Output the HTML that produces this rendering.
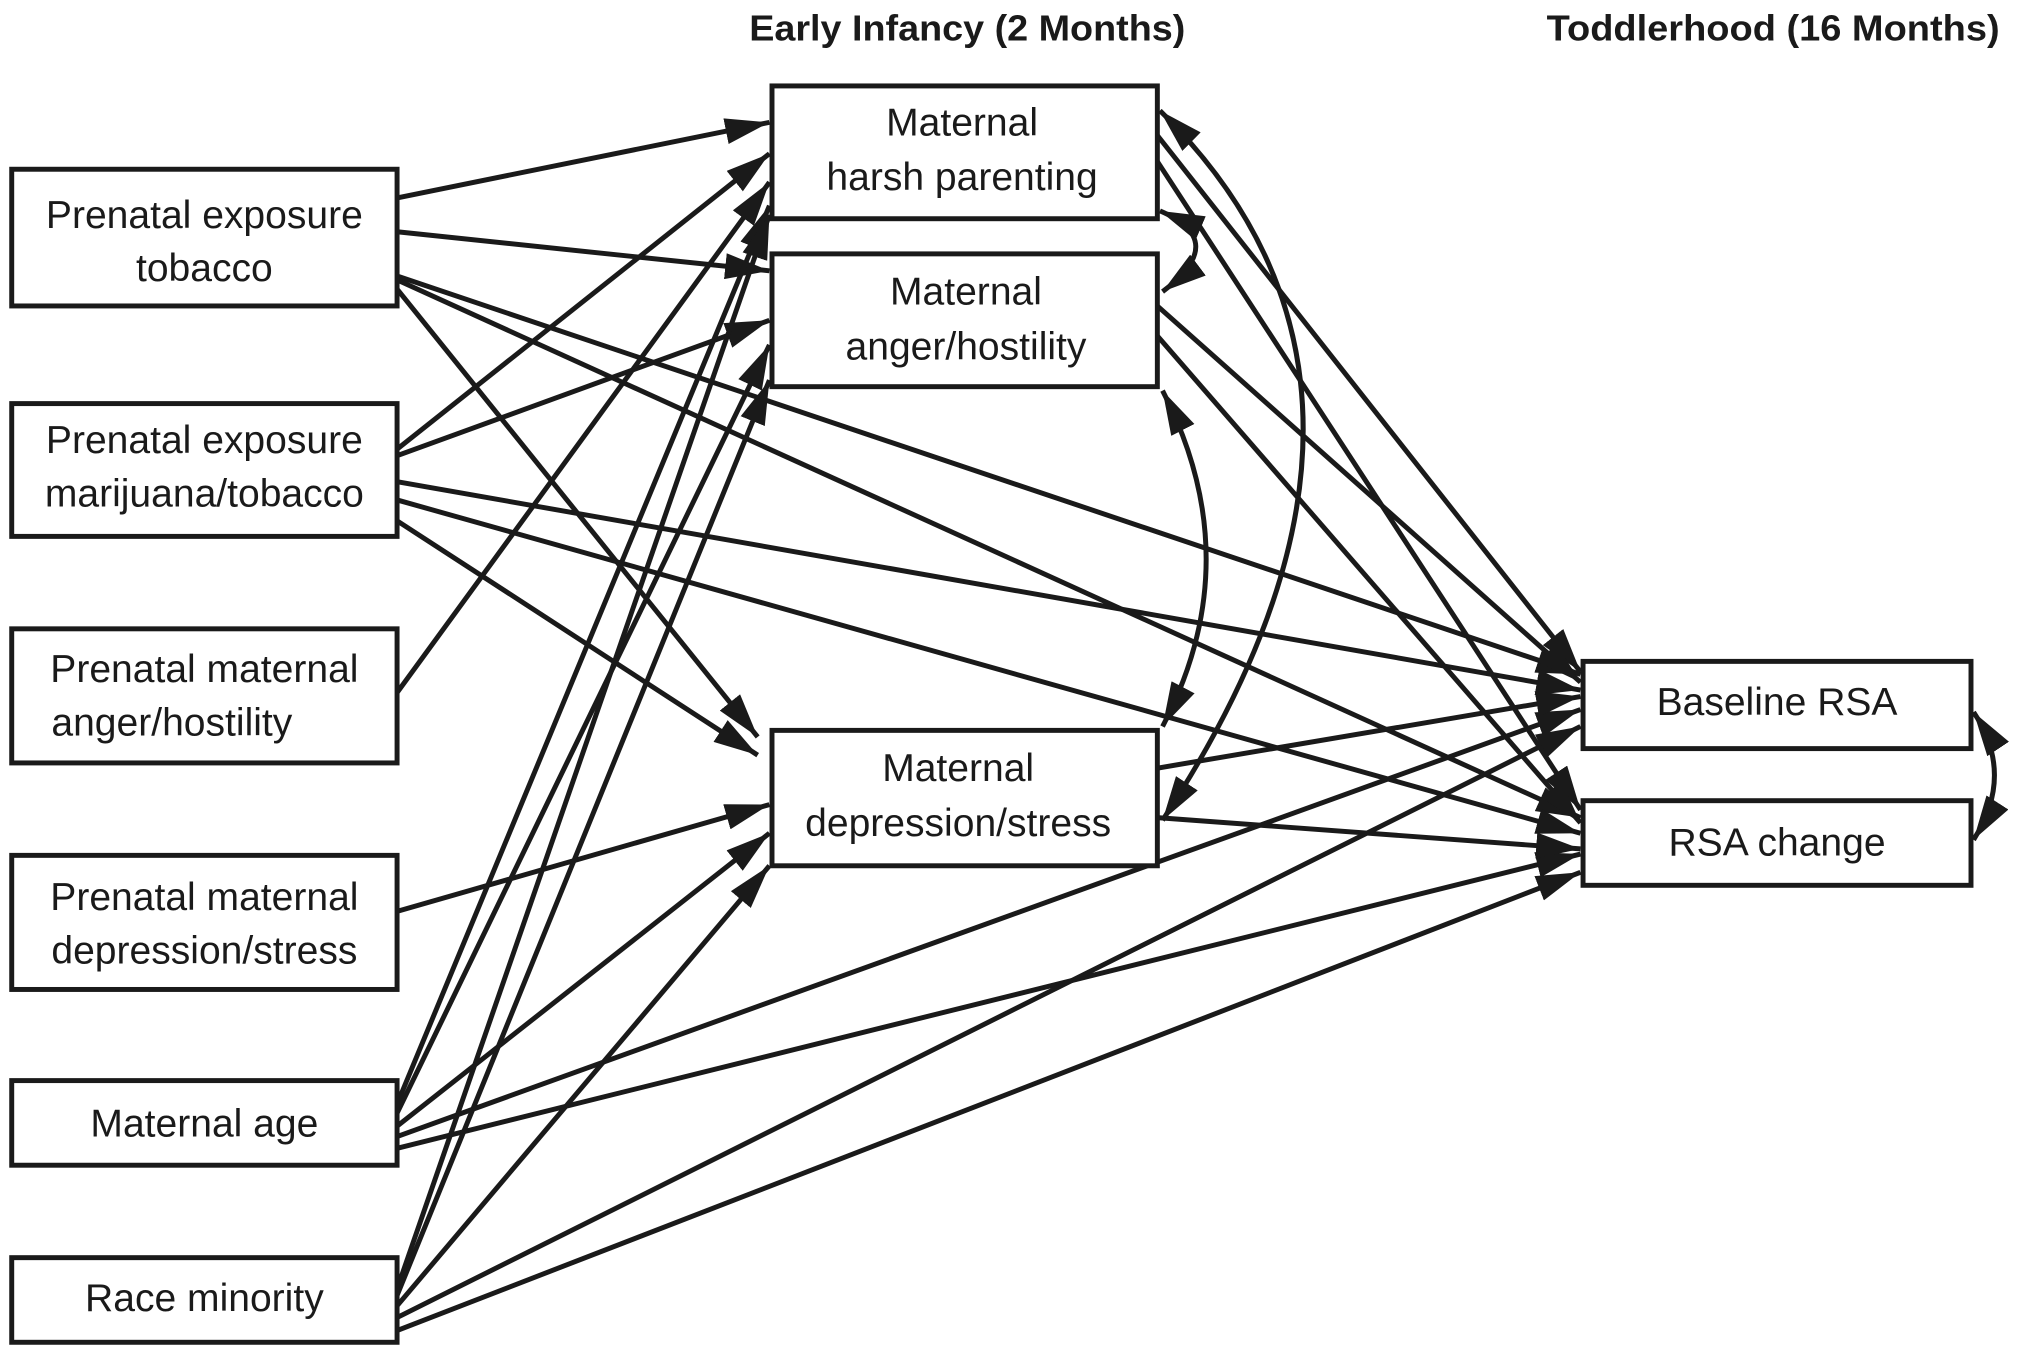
<!DOCTYPE html>
<html><head><meta charset="utf-8"><style>
html,body{margin:0;padding:0;background:#fff;}
svg{display:block;}
text{font-family:"Liberation Sans",sans-serif;fill:#1a1a1a;}
</style></head><body>
<svg width="2040" height="1354" viewBox="0 0 1567 1040" preserveAspectRatio="none" xmlns="http://www.w3.org/2000/svg">
<defs>
<marker id="a" viewBox="0 0 34 20" refX="34" refY="10" markerWidth="34" markerHeight="20" markerUnits="userSpaceOnUse" orient="auto-start-reverse">
<path d="M0,0 L34,10 L0,20 Z" fill="#1a1a1a"/>
</marker>
</defs>
<g stroke="#1a1a1a" stroke-width="3.8" fill="none" marker-end="url(#a)">
<line x1="305" y1="152" x2="591" y2="94"/>
<line x1="305" y1="178" x2="591" y2="208"/>
<line x1="305" y1="212" x2="1214" y2="518"/>
<line x1="305" y1="222" x2="582" y2="566"/>
<line x1="305" y1="215" x2="1214" y2="628"/>
<line x1="305" y1="345" x2="591" y2="118"/>
<line x1="305" y1="350" x2="591" y2="246"/>
<line x1="305" y1="370" x2="1214" y2="530"/>
<line x1="305" y1="384" x2="1214" y2="640"/>
<line x1="305" y1="400" x2="582" y2="580"/>
<line x1="305" y1="532" x2="591" y2="140"/>
<line x1="305" y1="700" x2="591" y2="618"/>
<line x1="305" y1="848" x2="591" y2="158"/>
<line x1="305" y1="855" x2="591" y2="265"/>
<line x1="305" y1="865" x2="591" y2="640"/>
<line x1="305" y1="873" x2="1214" y2="545"/>
<line x1="305" y1="882" x2="1214" y2="656"/>
<line x1="305" y1="990" x2="591" y2="165"/>
<line x1="305" y1="995" x2="591" y2="292"/>
<line x1="305" y1="1003" x2="591" y2="665"/>
<line x1="305" y1="1012" x2="1214" y2="558"/>
<line x1="305" y1="1022" x2="1214" y2="670"/>
<line x1="889" y1="104" x2="1214" y2="516"/>
<line x1="889" y1="124" x2="1214" y2="622"/>
<line x1="889" y1="235" x2="1214" y2="524"/>
<line x1="889" y1="258" x2="1214" y2="632"/>
<line x1="889" y1="590" x2="1214" y2="535"/>
<line x1="889" y1="628" x2="1214" y2="652"/>
</g>
<g stroke="#1a1a1a" stroke-width="3.8" fill="none" marker-start="url(#a)" marker-end="url(#a)">
<path d="M891,162 Q945,185 893,224"/>
<path d="M891,85 Q1110,300 893,630"/>
<path d="M893,300 Q960,430 893,558"/>
<path d="M1516,547 Q1548,595 1516,645"/>
</g>
<g stroke="#1a1a1a" stroke-width="3.8" fill="#fff">
<rect x="9" y="130" width="296" height="105"/>
<rect x="9" y="310" width="296" height="102"/>
<rect x="9" y="483" width="296" height="103"/>
<rect x="9" y="657" width="296" height="103"/>
<rect x="9" y="830" width="296" height="65"/>
<rect x="9" y="966" width="296" height="65"/>
<rect x="593" y="66" width="296" height="102"/>
<rect x="593" y="195" width="296" height="102"/>
<rect x="593" y="561" width="296" height="104"/>
<rect x="1216" y="508" width="298" height="67"/>
<rect x="1216" y="615" width="298" height="65"/>
</g>
<g font-size="30" text-anchor="middle">
<text x="157" y="175">Prenatal exposure</text>
<text x="157" y="216">tobacco</text>
<text x="157" y="348">Prenatal exposure</text>
<text x="157" y="389">marijuana/tobacco</text>
<text x="157" y="524">Prenatal maternal</text>
<text x="132" y="565">anger/hostility</text>
<text x="157" y="699">Prenatal maternal</text>
<text x="157" y="740">depression/stress</text>
<text x="157" y="873">Maternal age</text>
<text x="157" y="1007">Race minority</text>
<text x="739" y="104">Maternal</text>
<text x="739" y="146">harsh parenting</text>
<text x="742" y="234">Maternal</text>
<text x="742" y="276">anger/hostility</text>
<text x="736" y="600">Maternal</text>
<text x="736" y="642">depression/stress</text>
<text x="1365" y="549">Baseline RSA</text>
<text x="1365" y="657">RSA change</text>
</g>
<g font-size="28" font-weight="bold" text-anchor="middle">
<text x="743" y="31" textLength="335" lengthAdjust="spacingAndGlyphs">Early Infancy (2 Months)</text>
<text x="1362" y="31" textLength="348" lengthAdjust="spacingAndGlyphs">Toddlerhood (16 Months)</text>
</g>
</svg>
</body></html>
